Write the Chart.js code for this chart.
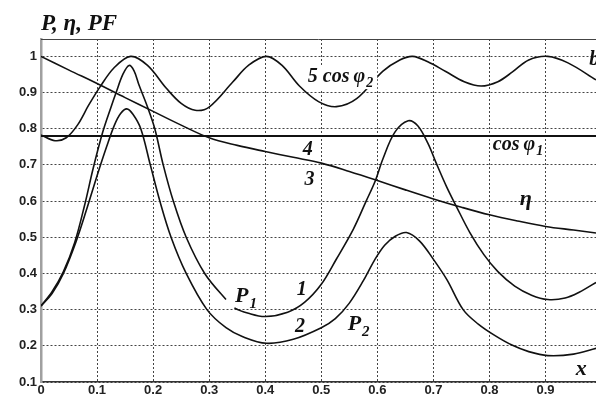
<!DOCTYPE html>
<html>
<head>
<meta charset="utf-8">
<script src="https://cdn.jsdelivr.net/npm/chart.js@4.4.1/dist/chart.umd.min.js"></script>
<style>
  html, body { margin: 0; padding: 0; background: #fff; }
  #wrap { width: 596px; height: 396px; }
</style>
</head>
<body>
<div id="wrap"><canvas id="powerChart" width="596" height="396"></canvas></div>
<script>
// axis ticks
const xTicks = [0, 0.1, 0.2, 0.3, 0.4, 0.5, 0.6, 0.7, 0.8, 0.9];
const yTicks = [0.1, 0.2, 0.3, 0.4, 0.5, 0.6, 0.7, 0.8, 0.9, 1];

// curve 1 - P1
const p1X = [0, 0.02, 0.04, 0.06, 0.078, 0.093, 0.11, 0.125, 0.134, 0.146, 0.157, 0.166, 0.175, 0.19, 0.203, 0.218, 0.236, 0.259, 0.292, 0.33, 0.345, 0.37, 0.40, 0.44, 0.47, 0.50, 0.527, 0.557, 0.58, 0.596, 0.61, 0.631, 0.655, 0.672, 0.69, 0.705, 0.724, 0.741, 0.765, 0.79, 0.815, 0.845, 0.875, 0.904, 0.935, 0.96, 0.99];
const p1Y = [0.31, 0.35, 0.405, 0.485, 0.59, 0.69, 0.79, 0.86, 0.90, 0.95, 0.975, 0.96, 0.92, 0.86, 0.80, 0.70, 0.60, 0.50, 0.40, 0.328, 0.305, 0.29, 0.281, 0.293, 0.32, 0.37, 0.44, 0.522, 0.60, 0.655, 0.717, 0.79, 0.822, 0.808, 0.76, 0.705, 0.638, 0.585, 0.513, 0.452, 0.405, 0.365, 0.34, 0.328, 0.332, 0.348, 0.375];

// curve 2 - P2
const p2X = [0, 0.02, 0.04, 0.063, 0.082, 0.1, 0.117, 0.131, 0.142, 0.153, 0.164, 0.178, 0.195, 0.212, 0.232, 0.259, 0.296, 0.33, 0.36, 0.402, 0.45, 0.50, 0.525, 0.55, 0.575, 0.595, 0.613, 0.632, 0.652, 0.675, 0.70, 0.724, 0.753, 0.78, 0.81, 0.84, 0.87, 0.904, 0.95, 0.99];
const p2Y = [0.31, 0.345, 0.40, 0.49, 0.58, 0.67, 0.75, 0.81, 0.842, 0.855, 0.84, 0.80, 0.70, 0.60, 0.50, 0.40, 0.30, 0.25, 0.225, 0.207, 0.218, 0.25, 0.275, 0.318, 0.38, 0.437, 0.478, 0.503, 0.513, 0.49, 0.439, 0.383, 0.30, 0.26, 0.228, 0.202, 0.184, 0.173, 0.177, 0.193];

// curve 3 - efficiency
const etaX = [0, 0.05, 0.1, 0.15, 0.2, 0.25, 0.3, 0.35, 0.4, 0.45, 0.5, 0.55, 0.6, 0.65, 0.7, 0.75, 0.8, 0.85, 0.9, 0.95, 0.99];
const etaY = [1.0, 0.962, 0.925, 0.886, 0.848, 0.81, 0.775, 0.754, 0.737, 0.721, 0.705, 0.682, 0.657, 0.631, 0.606, 0.583, 0.562, 0.545, 0.53, 0.52, 0.512];

// curve 4 - cos phi1
const cos1X = [0, 0.99];
const cos1Y = [0.78, 0.78];

// curve 5 - cos phi2
const cos2X = [0, 0.025, 0.045, 0.065, 0.085, 0.105, 0.13, 0.16, 0.19, 0.224, 0.25, 0.275, 0.30, 0.342, 0.37, 0.402, 0.43, 0.461, 0.495, 0.527, 0.563, 0.61, 0.64, 0.663, 0.69, 0.722, 0.755, 0.785, 0.815, 0.841, 0.87, 0.904, 0.94, 0.99];
const cos2Y = [0.783, 0.767, 0.775, 0.81, 0.865, 0.915, 0.968, 1.0, 0.975, 0.911, 0.87, 0.851, 0.86, 0.929, 0.975, 1.0, 0.975, 0.918, 0.875, 0.861, 0.883, 0.959, 0.99, 1.0, 0.985, 0.958, 0.93, 0.918, 0.93, 0.957, 0.99, 1.0, 0.982, 0.935];

// curve annotations
const notes = [
  { text: '5 cos\u2009\u03c6', sub: '2', x: 0.476, y: 0.93, size: 20, mask: true },
  { text: 'cos\u2009\u03c6', sub: '1', x: 0.806, y: 0.742, size: 20 },
  { text: '\u03b7', x: 0.854, y: 0.59, size: 22 },
  { text: '4', x: 0.467, y: 0.728, size: 20 },
  { text: '3', x: 0.47, y: 0.645, size: 20 },
  { text: '1', x: 0.456, y: 0.341, size: 20 },
  { text: '2', x: 0.453, y: 0.238, size: 20 },
  { text: 'P', sub: '1', x: 0.346, y: 0.321, size: 22 },
  { text: 'P', sub: '2', x: 0.547, y: 0.244, size: 22 },
  { text: 'x', x: 0.954, y: 0.119, size: 22 },
  { text: 'b', x: 0.978, y: 0.977, size: 20 }
];

const pts = (xs, ys) => xs.map((x, i) => ({ x: x, y: ys[i] }));
const p1Gap = p1X.indexOf(0.33);
const INK = '#111';
const serif = '"Liberation Serif", "Times New Roman", serif';

function curve(xs, ys, width) {
  return {
    data: pts(xs, ys),
    borderColor: INK,
    borderWidth: width,
    pointRadius: 0,
    tension: 0.35,
    fill: false
  };
}

const p1Set = curve(p1X, p1Y, 1.6);
p1Set.segment = { borderColor: c => c.p0DataIndex === p1Gap ? 'rgba(0,0,0,0)' : undefined };

const textPlugin = {
  id: 'curveText',
  afterDatasetsDraw(chart) {
    const { ctx, chartArea, scales } = chart;
    ctx.save();
    // top frame line
    ctx.strokeStyle = '#444';
    ctx.lineWidth = 1;
    ctx.beginPath();
    ctx.moveTo(chartArea.left, chartArea.top + 0.5);
    ctx.lineTo(chartArea.right, chartArea.top + 0.5);
    ctx.stroke();

    ctx.textBaseline = 'alphabetic';
    ctx.textAlign = 'left';
    notes.forEach(n => {
      const px = scales.x.getPixelForValue(n.x);
      const py = scales.y.getPixelForValue(n.y);
      ctx.font = `italic bold ${n.size}px ${serif}`;
      const w = ctx.measureText(n.text).width;
      let sw = 0;
      const subSize = Math.round(n.size * 0.68);
      if (n.sub) {
        ctx.font = `italic bold ${subSize}px ${serif}`;
        sw = ctx.measureText(n.sub).width;
      }
      if (n.mask) {
        ctx.fillStyle = '#fff';
        ctx.fillRect(px - 3, py - n.size * 0.78, w + sw + 8, n.size * 1.15);
      }
      ctx.fillStyle = INK;
      ctx.font = `italic bold ${n.size}px ${serif}`;
      ctx.fillText(n.text, px, py);
      if (n.sub) {
        ctx.font = `italic bold ${subSize}px ${serif}`;
        ctx.fillText(n.sub, px + w + 1, py + n.size * 0.28);
      }
    });

    // axis caption
    ctx.font = `italic bold 23px ${serif}`;
    ctx.fillStyle = INK;
    ctx.fillText('P, \u03b7, PF', chartArea.left, chartArea.top - 9);
    ctx.restore();
  }
};

const tickFont = { family: 'Arial, "Liberation Sans", sans-serif', size: 13, weight: 'bold' };

new Chart(document.getElementById('powerChart'), {
  type: 'line',
  data: {
    datasets: [
      curve(etaX, etaY, 1.6),
      curve(cos1X, cos1Y, 2),
      curve(cos2X, cos2Y, 1.6),
      p1Set,
      curve(p2X, p2Y, 1.6)
    ]
  },
  options: {
    responsive: false,
    animation: false,
    devicePixelRatio: 1,
    layout: { padding: { top: 39, right: 0, left: 0, bottom: 0 } },
    plugins: { legend: { display: false }, tooltip: { enabled: false } },
    scales: {
      x: {
        type: 'linear',
        min: 0,
        max: 0.99,
        afterBuildTicks: s => { s.ticks = xTicks.map(v => ({ value: v })); },
        afterFit: s => { s.height = 14; },
        ticks: { font: tickFont, color: '#222', padding: 1, maxRotation: 0, autoSkip: false, callback: v => String(v) },
        grid: { color: '#444', lineWidth: 1, drawTicks: false },
        border: { display: true, color: '#333', width: 1.5, dash: [2, 2] }
      },
      y: {
        min: 0.1,
        max: 1.048,
        afterBuildTicks: s => { s.ticks = yTicks.map(v => ({ value: v })); },
        afterFit: s => { s.width = 41; },
        ticks: { font: tickFont, color: '#222', padding: 4, autoSkip: false, callback: v => String(v) },
        grid: { color: '#444', lineWidth: 1, drawTicks: false },
        border: { display: true, color: '#a0a0a0', width: 2.5, dash: [2, 2] }
      }
    }
  },
  plugins: [textPlugin]
});
</script>
</body>
</html>
